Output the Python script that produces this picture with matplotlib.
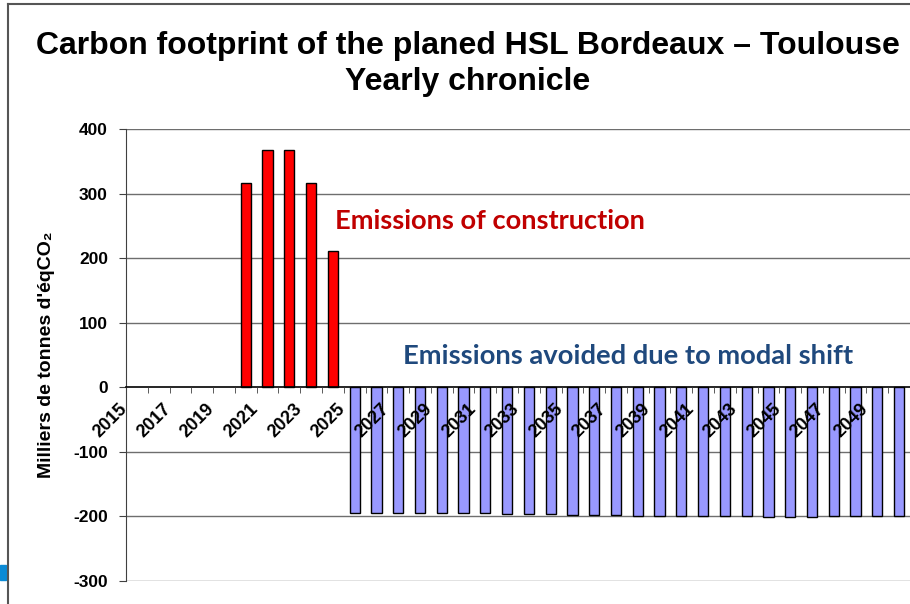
import numpy as np
import matplotlib
matplotlib.use('Agg')
import matplotlib.pyplot as plt
import matplotlib.transforms as mtransforms
from matplotlib.patches import Rectangle
from matplotlib.lines import Line2D

plt.rcParams['font.family'] = ['Liberation Sans', 'DejaVu Sans']

# 年份与数值（千吨 CO2 当量）
construction_years = [2020, 2021, 2022, 2023, 2024]
construction_values = [316, 368, 368, 316, 211]
avoided_years = list(range(2025, 2051))
avoided_values = [-195, -195, -195, -195, -195, -195, -195,
                  -196.5, -196.5, -196.5,
                  -198, -198, -198,
                  -200, -200, -200, -200, -200, -200,
                  -202, -202, -202,
                  -200, -200, -200, -200]
label_years = list(range(2015, 2051, 2))
y_ticks = [-300, -200, -100, 0, 100, 200, 300, 400]

W, H = 910, 604
fig = plt.figure(figsize=(W / 100, H / 100), dpi=100)

# 外框和左下角的蓝色小块
fig.add_artist(Line2D([8 / W, 8 / W], [0, 1 - 4 / H], color='#555555', lw=1.5))
fig.add_artist(Line2D([8 / W, 1], [1 - 4 / H, 1 - 4 / H], color='#555555', lw=1.5))
fig.add_artist(Rectangle((0, 1 - 580 / H), 6 / W, 15 / H, color='#0B8BD6',
                         transform=fig.transFigure))

# 标题
fig.text(468 / W, 1 - 64 / H,
         'Carbon footprint of the planed HSL Bordeaux \u2013 Toulouse\nYearly chronicle',
         ha='center', va='center', fontsize=23, fontweight='bold', linespacing=1.22)

ax = fig.add_axes([126 / W, 1 - 580.7 / H, 784 / W, (580.7 - 129) / H])

# 柱状图
ax.bar(construction_years, construction_values, width=0.47, color='#FF0000',
       edgecolor='black', linewidth=1, zorder=2)
ax.bar(avoided_years, avoided_values, width=0.47, color='#9999FF',
       edgecolor='black', linewidth=1, zorder=2)

ax.set_xlim(2014.5, 2050.5)
ax.set_ylim(-300, 400)

# 网格线
for yv in y_ticks:
    if yv != 0:
        ax.axhline(yv, color='#6e6e6e', lw=1, zorder=1)

ax.spines['top'].set_visible(False)
ax.spines['right'].set_visible(False)
ax.spines['left'].set_color('#404040')
ax.spines['bottom'].set_position(('data', 0))
ax.spines['bottom'].set_color('black')
ax.spines['bottom'].set_linewidth(1.2)
ax.spines['bottom'].set_zorder(4)

ax.set_yticks(y_ticks)
ax.set_yticklabels([str(v) for v in y_ticks], fontsize=12.5, fontweight='bold')
ax.tick_params(axis='y', length=5, pad=8, color='#404040')

# X 轴：类别边界处的小刻度，奇数年标签（画在柱子上面）
ax.set_xticks(label_years)
ax.set_xticks(np.arange(2014.5, 2051, 1), minor=True)
ax.tick_params(axis='x', which='major', length=0, pad=0)
ax.tick_params(axis='x', which='minor', length=4, direction='out', color='#404040')
ax.set_xticklabels([str(y) for y in label_years], fontsize=13, fontweight='bold',
                   rotation=45, ha='right', va='center', rotation_mode='anchor')
offset = mtransforms.ScaledTranslation(-12 / 100, -19 / 100, fig.dpi_scale_trans)
for lab in ax.get_xticklabels():
    lab.set_transform(lab.get_transform() + offset)
ax.xaxis.set_zorder(5)

ax.set_ylabel("Milliers de tonnes d'éqCO\u2082", fontsize=14, fontweight='bold')
ax.yaxis.set_label_coords(-0.09, 0.5)

# 注释文字
ax.text(2024.1, 258, 'Emissions of construction', color='#C00000', fontsize=19.6,
        fontweight='bold', family=['Lato', 'DejaVu Sans'], ha='left', va='center')
ax.text(2027.2, 48, 'Emissions avoided due to modal shift', color='#1F497D', fontsize=19.7,
        fontweight='bold', family=['Lato', 'DejaVu Sans'], ha='left', va='center')

fig.savefig('out.png', dpi=100)
